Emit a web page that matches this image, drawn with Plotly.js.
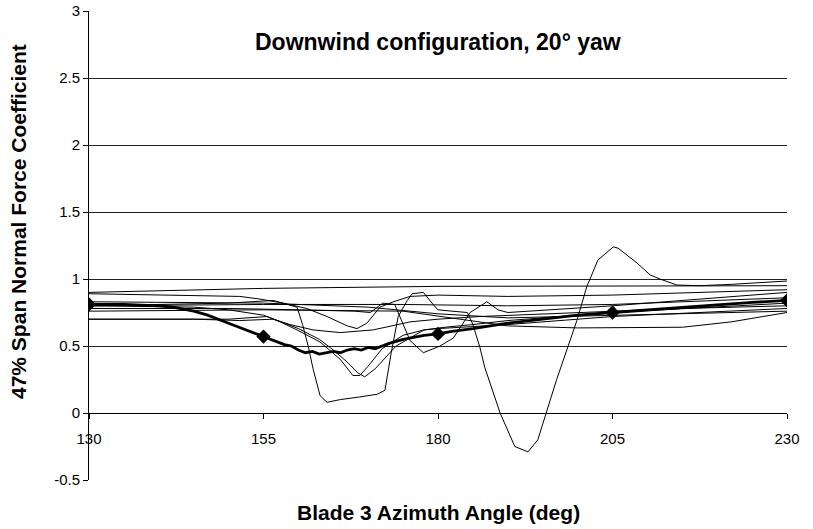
<!DOCTYPE html>
<html>
<head>
<meta charset="utf-8">
<script src="https://cdn.plot.ly/plotly-3.0.1.min.js"></script>
<style>html,body{margin:0;padding:0;background:#fff;}#chart{width:813px;height:529px;}</style>
</head>
<body>
<div id="chart"></div>
<script>
// Thin series (individual cycles)
const aX = [130,155,180,205,230];
const aY = [0.90,0.93,0.945,0.95,0.95];

const bX = [130,140,150,156.4,158.4,159.8,160.6,161.4,162.1,163.1,164.1,166,168.8,171.3,172.4,173.3,174.3,175.6,176.3,177.9,179.3,180,182,184.2,185,186,186.7,188.9,191,192.9,194.3,197,199.9,201.3,202.9,205.1,205.8,208.5,210.4,211.8,214.2,217.5,222,230];
const bY = [0.80,0.81,0.82,0.84,0.81,0.79,0.66,0.50,0.33,0.13,0.08,0.10,0.12,0.14,0.17,0.45,0.72,0.84,0.89,0.90,0.81,0.77,0.76,0.75,0.66,0.49,0.34,0.0,-0.25,-0.29,-0.20,0.25,0.69,0.94,1.14,1.24,1.23,1.12,1.03,1.00,0.955,0.95,0.96,0.985];

const cX = [130,140,151.6,154.5,157.8,161.2,164.1,167,168.4,169.8,171.7,173.6,176,180,190,205,230];
const cY = [0.89,0.88,0.87,0.85,0.82,0.78,0.72,0.65,0.63,0.67,0.79,0.83,0.87,0.88,0.87,0.88,0.92];

const gX = [130,150,160,168,170.3,172.1,173.8,174.6,176,177.9,180.3,182.2,184.6,187,188.6,190,205,230];
const gY = [0.78,0.78,0.77,0.76,0.75,0.82,0.81,0.71,0.54,0.45,0.50,0.56,0.75,0.83,0.77,0.75,0.80,0.90];

const hX = [130,155,175,190,205,230];
const hY = [0.80,0.81,0.81,0.80,0.81,0.86];

const d1X = [130,145,150,155.5,157.4,159.8,163.1,166,167.8,168.8,170,172,175,178,180,190,205,230];
const d1Y = [0.70,0.70,0.70,0.72,0.68,0.62,0.53,0.40,0.28,0.28,0.35,0.48,0.58,0.62,0.63,0.66,0.72,0.78];

const d2X = [130,145,150,155,160,163,165,167,168.5,169.5,171,174,178,181,185,190,205,230];
const d2Y = [0.80,0.79,0.77,0.73,0.63,0.55,0.47,0.38,0.30,0.27,0.33,0.50,0.62,0.64,0.66,0.69,0.75,0.82];

const eX = [130,145,151.6,156.4,158.8,162.1,166,170.7,176,180,186,195,205,215,230];
const eY = [0.70,0.70,0.69,0.70,0.66,0.62,0.60,0.62,0.68,0.70,0.72,0.74,0.76,0.78,0.80];

const iX = [130,155,175,183,190,200,215,222,230];
const iY = [0.76,0.77,0.76,0.70,0.65,0.635,0.64,0.68,0.75];

const jX = [130,155,170,180,190,205,230];
const jY = [0.83,0.82,0.79,0.74,0.71,0.73,0.76];

// Thick average series
const meanX = [130,135,140,142,145,147,150,152,155,157,158,159,160,161,162,163,164,165,166,167,168,169,170,171,172,173,175,177,178,180,182,185,190,195,200,205,210,215,220,225,230];
const meanY = [0.81,0.81,0.80,0.79,0.76,0.73,0.67,0.63,0.57,0.53,0.51,0.50,0.47,0.45,0.46,0.44,0.45,0.46,0.45,0.47,0.48,0.47,0.49,0.48,0.50,0.52,0.55,0.57,0.58,0.59,0.61,0.63,0.67,0.70,0.73,0.75,0.77,0.79,0.81,0.825,0.84];

const xTicks = [130,155,180,205,230];
const yTicks = [-0.5,0,0.5,1,1.5,2,2.5,3];
const yTickText = ['-0.5','0','0.5','1','1.5','2','2.5','3'];

const FONT = 'Liberation Sans, Arial, sans-serif';

const thin = [[aX,aY],[bX,bY],[cX,cY],[gX,gY],[hX,hY],[d1X,d1Y],[d2X,d2Y],[eX,eY],[iX,iY],[jX,jY]];
const traces = thin.map(([x,y]) => ({
  x: x, y: y, type: 'scatter', mode: 'lines',
  line: {color: '#000', width: 1}, hoverinfo: 'skip', showlegend: false
}));
traces.push({x: meanX, y: meanY, type: 'scatter', mode: 'lines',
  line: {color: '#000', width: 2.8}, showlegend: false});
const mk = meanX.map((x,i)=>[x,meanY[i]]).filter(p => xTicks.includes(p[0]));
traces.push({x: mk.map(p=>p[0]), y: mk.map(p=>p[1]), type: 'scatter', mode: 'markers',
  marker: {symbol: 'diamond', size: 11, color: '#000'}, showlegend: false});

const L = 89, R = 787, T = 11, B = 480;
const pw = R - L, ph = B - T;
const zeroPos = (0 - (-0.5)) / 3.5;

const layout = {
  width: 813, height: 529,
  margin: {l: L, r: 813 - R, t: T, b: 529 - B, pad: 0},
  paper_bgcolor: '#fff', plot_bgcolor: '#fff',
  font: {family: FONT, color: '#000', size: 15},
  xaxis: {
    range: [130, 230], tickvals: xTicks, ticktext: xTicks.map(String),
    anchor: 'free', position: zeroPos,
    showline: true, linecolor: '#000', linewidth: 1,
    ticks: 'outside', ticklen: 5, tickcolor: '#000', tickwidth: 1,
    ticklabelstandoff: 7,
    showgrid: false, zeroline: false,
    tickfont: {family: FONT, size: 15, color: '#000'}
  },
  yaxis: {
    range: [-0.5, 3], tickvals: yTicks, ticktext: yTickText,
    showline: true, linecolor: '#000', linewidth: 1,
    ticks: 'outside', ticklen: 5, tickcolor: '#000', tickwidth: 1,
    showgrid: true, gridcolor: '#222', gridwidth: 1, zeroline: false,
    tickfont: {family: FONT, size: 15, color: '#000'}
  },
  annotations: [
    {text: '<b>Downwind configuration, 20° yaw</b>', xref: 'paper', yref: 'paper',
     x: 0.5, y: (B - 42) / ph, xanchor: 'center', yanchor: 'middle', showarrow: false,
     font: {family: FONT, size: 23, color: '#000'}},
    {text: '<b>Blade 3 Azimuth Angle (deg)</b>', xref: 'paper', yref: 'paper',
     x: 0.5, y: (B - 512) / ph, xanchor: 'center', yanchor: 'middle', showarrow: false,
     font: {family: FONT, size: 21, color: '#000'}},
    {text: '<b>47% Span Normal Force Coefficient</b>', xref: 'paper', yref: 'paper',
     x: (18 - L) / pw, y: (B - 222) / ph, xanchor: 'center', yanchor: 'middle', showarrow: false,
     textangle: -90, font: {family: FONT, size: 21, color: '#000'}}
  ]
};

Plotly.newPlot('chart', traces, layout, {staticPlot: true, displayModeBar: false});
</script>
</body>
</html>
